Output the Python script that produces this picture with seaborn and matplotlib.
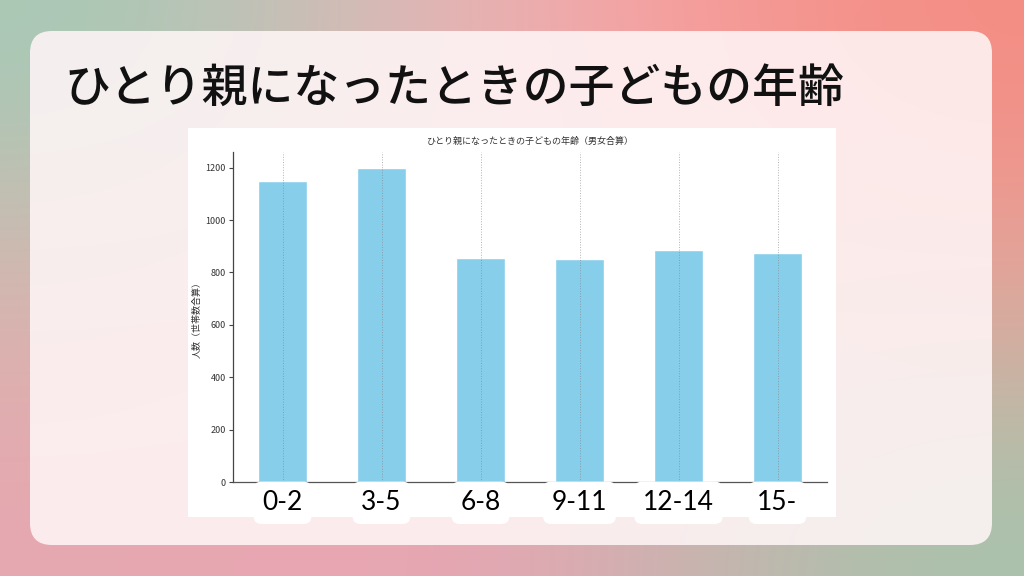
import numpy as np
import matplotlib
matplotlib.use("Agg")
import matplotlib.pyplot as plt
from matplotlib.patches import FancyBboxPatch, Rectangle
import seaborn as sns

# data
ages = ["0-2", "3-5", "6-8", "9-11", "12-14", "15-"]
counts = [1150, 1200, 856, 853, 886, 875]

slide_title = "ひとり親になったときの子どもの年齢"
chart_title = "ひとり親になったときの子どもの年齢（男女合算）"
y_label = "人数（世帯数合算）"

sns.set_style("white")
plt.rcParams["font.family"] = ["Noto Sans CJK JP", "DejaVu Sans"]

fig = plt.figure(figsize=(10.24, 5.76), dpi=100)

# slide background: soft gradient, pixel coordinates
bg = fig.add_axes([0, 0, 1, 1])
grad = np.array([
    [[166, 202, 182], [248, 176, 184], [244, 140, 130]],
    [[214, 182, 174], [242, 178, 186], [228, 166, 156]],
    [[230, 168, 176], [236, 162, 180], [166, 196, 172]],
]) / 255.0
bg.imshow(grad, extent=[0, 1024, 576, 0], aspect="auto", interpolation="bicubic")
bg.set_xlim(0, 1024)
bg.set_ylim(576, 0)
bg.axis("off")

panel = FancyBboxPatch((30, 31), 962, 514, boxstyle="round,pad=0,rounding_size=22",
                       fc="#fff6f7", ec="none", alpha=0.87)
bg.add_patch(panel)
bg.add_patch(Rectangle((188, 128), 648, 389, fc="white", ec="none"))
bg.text(64, 88, slide_title, fontsize=33, va="center", ha="left", color="#111111",
        fontweight="medium")

# the bar chart
ax = fig.add_axes([233 / 1024, 94 / 576, 594 / 1024, 330 / 576])
ax.set_facecolor("none")
sns.barplot(x=ages, y=counts, color="skyblue", saturation=1, width=0.5, ax=ax)
ax.set_xlim(-0.5, 5.5)
ax.set_ylim(0, 1260)
ax.set_yticks(range(0, 1201, 200))
ax.set_axisbelow(False)
ax.grid(axis="x", linestyle=":", color="gray", alpha=0.6, linewidth=0.7)
ax.grid(axis="y", visible=False)
for s in ["top", "right"]:
    ax.spines[s].set_visible(False)
ax.spines["left"].set_color("#444444")
ax.spines["bottom"].set_color("#555555")
ax.spines["left"].set_linewidth(0.9)
ax.spines["bottom"].set_linewidth(0.9)
ax.tick_params(axis="y", left=True, length=3, width=0.8, color="#444444",
               labelsize=6.5, labelcolor="#333333", pad=2)
ax.tick_params(axis="x", bottom=False, labelbottom=False)
ax.set_xlabel("")
ax.set_ylabel(y_label, fontsize=6.5, color="#333333", labelpad=3)
ax.set_title(chart_title, fontsize=6.5, color="#333333", pad=6)

# big category labels in white boxes covering the axis line
for i, lab in enumerate(ages):
    ax.text(i, -0.063, lab, transform=ax.get_xaxis_transform(), ha="center", va="center",
            fontsize=19, color="black", family=["Lato", "DejaVu Sans"], zorder=10, clip_on=False,
            bbox=dict(boxstyle="round,pad=0.33,rounding_size=0.3", fc="white", ec="none"))

fig.savefig("out.png", dpi=100)
